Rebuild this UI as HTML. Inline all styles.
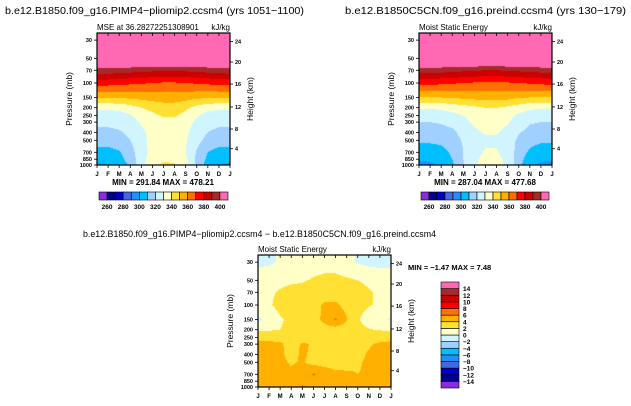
<!DOCTYPE html>
<html><head><meta charset="utf-8"><style>
html,body{margin:0;padding:0;background:#fff;}
#wrap{position:relative;width:631px;height:406px;overflow:hidden;font-family:"Liberation Sans",sans-serif;}
canvas{position:absolute;left:0;top:0;}
svg{position:absolute;left:0;top:0;}
text{font-family:"Liberation Sans",sans-serif;fill:#000;}
</style></head><body>
<div id="wrap">
<canvas id="cv" width="631" height="406"></canvas>
<svg id="sv" width="631" height="406" xmlns="http://www.w3.org/2000/svg"></svg>
</div>
<script>
const months = ["J","F","M","A","M","J","J","A","S","O","N","D","J"];
const levels = [30,50,70,100,150,200,250,300,400,500,700,850,1000];
const pTicks = [30,50,70,100,150,200,250,300,400,500,700,850,1000];
const kmTicks = [4,8,12,16,20,24];
const kmPress = [633,364,196,103,55.5,31.3];
const mseBounds = [260,270,280,290,300,310,320,330,340,350,360,370,380,390,400];
const mseLabels = [260,280,300,320,340,360,380,400];
const diffBounds = [-14,-12,-10,-8,-6,-4,-2,0,2,4,6,8,10,12,14];
const diffLabels = [14,12,10,8,6,4,2,0,-2,-4,-6,-8,-10,-12,-14];
const palette = ["#8a2be2","#00008b","#0000cd","#4169e1","#1e90ff","#00bfff","#a0d0ff","#d0f5ff","#ffffc8","#ffe033","#ffb000","#ff7000","#ff0000","#cc0000","#a52a2a","#ff69b4"];
const mse1 = [
[450,450,450,450,450,450,450,450,450,450,450,450,450],
[420,420,420,420,420,420,420,420,420,420,420,420,420],
[396,396,395,394,393,392,391,391,392,393,394,395,396],
[374,374,373,372,371,370,369,369,370,371,372,373,374],
[351,351,351,352,353,354,355,355,354,352,351,351,351],
[332,332,333,336,340,343,345,345,342,337,333,332,332],
[325,325,326,329,334,338,341,341,337,331,326,325,325],
[322,322,323,326,331,335,337,337,334,328,323,322,322],
[318,318,319,322,328,333,335,335,332,325,320,318,318],
[315,315,316,320,327,333,335,335,331,323,317,315,315],
[306,306,309,316,326,333,335,335,330,319,310,306,306],
[303,304,307,314,326,335,338,338,332,318,308,304,303],
[298,300,304,312,326,338,342,341,334,318,305,300,298]];
const mse2 = [
[450,450,450,450,450,450,450,450,450,450,450,450,450],
[420,420,420,420,420,420,420,420,420,420,420,420,420],
[395,395,394,393,392,391,390,390,391,392,393,394,395],
[373,373,372,371,370,369,368,368,369,370,371,372,373],
[350,350,350,351,352,353,354,354,353,351,350,350,350],
[331,331,332,334,336,338,340,340,338,335,332,331,331],
[324,324,325,327,330,334,336,336,333,328,325,324,324],
[320,320,321,323,327,332,334,334,331,325,321,320,320],
[315,315,316,318,323,328,331,331,327,321,317,315,315],
[312,312,313,316,321,326,328,328,325,318,314,312,312],
[304,304,306,312,320,327,331,331,326,316,308,304,304],
[301,302,304,310,320,328,333,333,327,314,305,302,301],
[296,298,301,308,319,329,334,334,328,313,302,298,296]];
const diff = [
[-0.5,-0.3,0.2,0.5,1,1.5,1.5,1.2,0.5,-0.2,-0.5,-0.6,-0.5],
[1.2,1.3,1.5,1.7,1.9,2.1,2.3,2.5,2.3,2,1.6,1.3,1.2],
[1.5,1.7,2.2,2.6,2.4,2.6,2.8,2.8,2.6,2.7,2.2,1.7,1.5],
[1.5,1.8,2.5,2.8,2.9,3.2,4.3,4.4,3.2,2.6,2.1,1.8,1.5],
[-0.5,0.8,1.8,2.4,2.6,3.2,4.5,6.2,4.2,2.2,1.2,0.6,-0.3],
[1.7,1.8,2,2.4,2.9,3,3.2,3.1,2.8,2.4,2.1,1.9,1.7],
[3.2,3.3,3.1,3,2.8,3.6,3.2,3,3,2.8,3,3.2,3.2],
[4.6,4.6,4.4,3,4.3,3.8,3.2,2.9,3,3.2,3.8,4.3,4.6],
[4.8,4.7,4.5,3.2,4.4,3.5,3,2.8,3,3.5,4.2,4.6,4.8],
[4.8,4.7,4.5,3.8,4.2,3.4,3,2.9,3.3,3.8,4.3,4.7,4.8],
[4.8,4.8,4.6,4.4,5,6.2,5.5,4.6,4.3,4,4.2,4.6,4.8],
[4.8,4.8,4.6,4.7,5.2,5.3,5,4.8,4.7,4.3,4.2,4.6,4.8],
[4.6,4.6,4.5,5,6.3,5.6,4.9,4.7,6.2,4.6,4.2,4.5,4.6]];

const NS="http://www.w3.org/2000/svg";
const sv=document.getElementById('sv');
const ctx=document.getElementById('cv').getContext('2d');
function mk(tag,attrs,parent){const e=document.createElementNS(NS,tag);for(const k in attrs)e.setAttribute(k,attrs[k]);(parent||sv).appendChild(e);return e;}
function txt(s,x,y,size,anchor,parent,extra){const t=mk('text',Object.assign({x:x,y:y,'font-size':size,'text-anchor':anchor||'start'},extra||{}),parent);t.textContent=s;return t;}
function colorIdx(v,b){let i=0;while(i<b.length&&v>=b[i])i++;return i;}

function panel(P){
  const g=mk('g',{});
  
  
  const x0=P.x,y0=P.y,w=133,h=132,ppd=82;
  const yOf=p=>y0+h-ppd*(3-Math.log10(p));
  const xOf=m=>x0+m*w/12;
  const lv=levels.map(p=>Math.log10(p));
  for(let py=0;py<h;py++){
    const lp=Math.log10(1000)-(h-py-0.5)/ppd;
    let k=0;while(k<lv.length-2&&lp>lv[k+1])k++;
    let t=(lp-lv[k])/(lv[k+1]-lv[k]);t=Math.max(0,Math.min(1,t));
    for(let px=0;px<w;px++){
      const m=(px+0.5)/w*12;let i=Math.min(11,Math.floor(m));const u=m-i;
      const D=P.data;
      const a=D[k][i]*(1-u)+D[k][i+1]*u, b=D[k+1][i]*(1-u)+D[k+1][i+1]*u;
      const v=a*(1-t)+b*t;
      ctx.fillStyle=palette[colorIdx(v,P.bounds)];
      ctx.fillRect(x0+px,y0+py,1,1);
    }
  }
  const frame=mk('rect',{x:x0,y:y0,width:w,height:h,fill:'none',stroke:'#000','stroke-width':1.2},g);
  
  
  pTicks.forEach(p=>{const y=yOf(p);mk('line',{x1:x0-3,x2:x0,y1:y,y2:y,stroke:'#000','stroke-width':0.8},g);
    const t=txt(String(p),x0-5,y+2,5.5,'end',g,{'font-weight':'bold'});
    });
  kmTicks.forEach((k,i)=>{const y=yOf(kmPress[i]);mk('line',{x1:x0+w,x2:x0+w+3,y1:y,y2:y,stroke:'#000','stroke-width':0.8},g);
    const t=txt(String(k),x0+w+5,y+2,5.5,'start',g,{'font-weight':'bold'});
    });
  months.forEach((mo,i)=>{const x=xOf(i);mk('line',{x1:x,x2:x,y1:y0+h,y2:y0+h+3,stroke:'#000','stroke-width':0.8},g);
    mk('line',{x1:x,x2:x,y1:y0,y2:y0+3,stroke:'#000','stroke-width':0.8},g);
    const t=txt(mo,x,y0+h+11,6,'middle',g,{'font-weight':'bold'});
    });
  const yl=txt('Pressure (mb)',0,0,8.5,'middle',g,{transform:`translate(${x0-25},${y0+h/2}) rotate(-90)`});
  
  const hl=txt('Height (km)',0,0,8.5,'middle',g,{transform:`translate(${x0+w+23},${y0+h/2}) rotate(-90)`});
  
  const ls=txt(P.left,x0,y0-3,8,'start',g);
  const rs=txt('kJ/kg',x0+w,y0-3,8,'end',g);
  return {g,x0,y0,w,h};
}
function hbar(x,y,w,h,parent){
  const g=mk('g',{},parent);
  const bw=w/palette.length;
  palette.forEach((c,i)=>{const r=mk('rect',{x:x+i*bw,y:y,width:bw,height:h,fill:c,stroke:'#000','stroke-width':0.6},g);
    });
  mseLabels.forEach(v=>{const i=mseBounds.indexOf(v)+1;const t=txt(String(v),x+i*bw,y+h+9,6.5,'middle',g,{'font-weight':'bold'});
    });
}
const p1=panel({name:'panel-pliomip2',x:97,y:33,data:mse1,bounds:mseBounds,left:'MSE at 36.28272251308901'});
const p2=panel({name:'panel-preind',x:419,y:33,data:mse2,bounds:mseBounds,left:'Moist Static Energy'});
const p3=panel({name:'panel-difference',x:258,y:255,data:diff,bounds:diffBounds,left:'Moist Static Energy'});
hbar(99,192,129,8,p1.g);
hbar(421,192,128,8,p2.g);
(function(){const g=mk('g',{},p3.g);
  const x=441,y=282,w=18,h=106,bh=h/palette.length;
  palette.forEach((c,i)=>{const r=mk('rect',{x:x,y:y+h-(i+1)*bh,width:w,height:bh,fill:c,stroke:'#000','stroke-width':0.6},g);
    });
  diffLabels.forEach(v=>{const i=diffBounds.indexOf(v)+1;const yy=y+h-i*bh;
    const t=txt(String(v).replace('-','\u2212'),x+w+4,yy+2.5,6.5,'start',g,{'font-weight':'bold'});
    });
})();
let t;
t=txt('b.e12.B1850.f09_g16.PIMP4\u2212pliomip2.ccsm4  (yrs 1051\u22121100)',5,14,10.5,'start',null,{textLength:299,lengthAdjust:'spacingAndGlyphs'});

t=txt('b.e12.B1850C5CN.f09_g16.preind.ccsm4  (yrs 130\u2212179)',345,14,10.5,'start',null,{textLength:281,lengthAdjust:'spacingAndGlyphs'});

t=txt('b.e12.B1850.f09_g16.PIMP4\u2212pliomip2.ccsm4  \u2212  b.e12.B1850C5CN.f09_g16.preind.ccsm4',83,237,9,'start',null,{textLength:353,lengthAdjust:'spacingAndGlyphs'});

t=txt('MIN = 291.84  MAX = 478.21',163,185,8,'middle',null,{'font-weight':'bold'});

t=txt('MIN = 287.04  MAX = 477.68',485,185,8,'middle',null,{'font-weight':'bold'});

t=txt('MIN =   \u22121.47  MAX =   7.48',408,270,7.5,'start',null,{'font-weight':'bold'});

</script>
</body></html>
